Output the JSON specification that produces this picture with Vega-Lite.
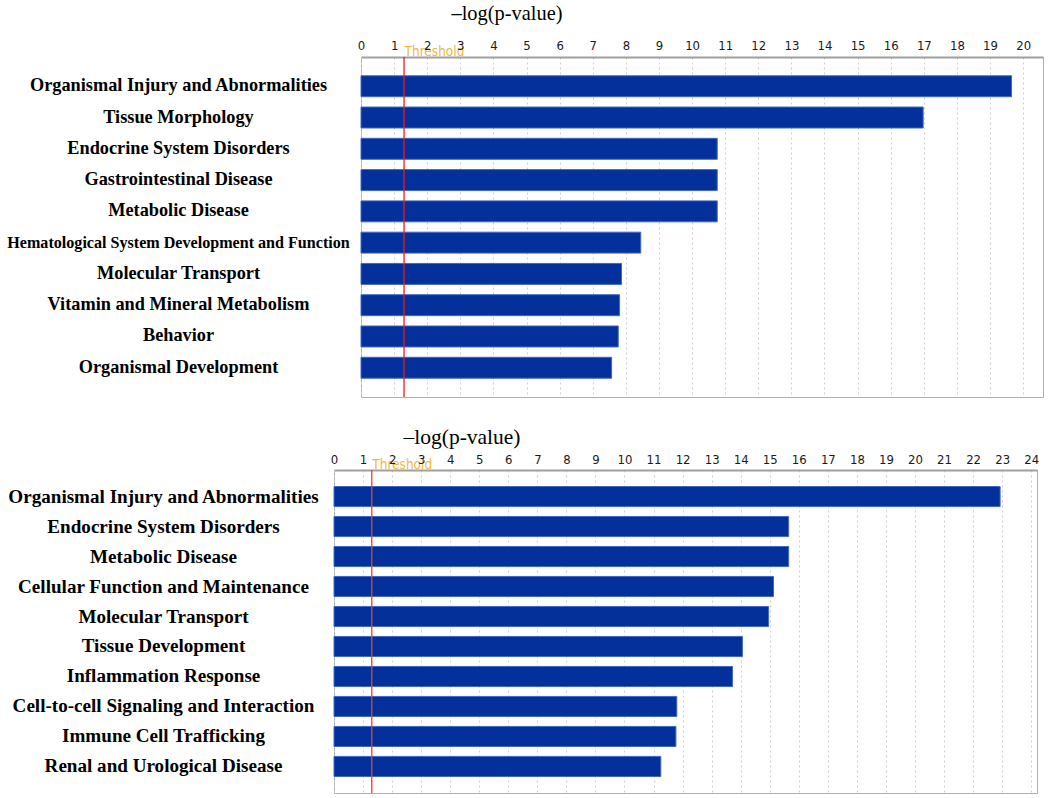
{
  "$schema": "https://vega.github.io/schema/vega-lite/v6.json",
  "background": "white",
  "padding": {"left": 5, "top": 2, "right": 0, "bottom": 0},
  "config": {
    "view": {"stroke": "#b0b0b0", "strokeWidth": 1},
    "axis": {"labelOverlap": false},
    "axisX": {"labelOverlap": false},
    "axisQuantitative": {"labelOverlap": false}
  },
  "datasets": {
    "top": [
      {"category": "Organismal Injury and Abnormalities", "value": 19.65},
      {"category": "Tissue Morphology", "value": 16.98},
      {"category": "Endocrine System Disorders", "value": 10.76},
      {"category": "Gastrointestinal Disease", "value": 10.76},
      {"category": "Metabolic Disease", "value": 10.76},
      {"category": "Hematological System Development and Function", "value": 8.45},
      {"category": "Molecular Transport", "value": 7.87},
      {"category": "Vitamin and Mineral Metabolism", "value": 7.81},
      {"category": "Behavior", "value": 7.77},
      {"category": "Organismal Development", "value": 7.57}
    ],
    "bottom": [
      {"category": "Organismal Injury and Abnormalities", "value": 22.93},
      {"category": "Endocrine System Disorders", "value": 15.65},
      {"category": "Metabolic Disease", "value": 15.65},
      {"category": "Cellular Function and Maintenance", "value": 15.13},
      {"category": "Molecular Transport", "value": 14.96},
      {"category": "Tissue Development", "value": 14.06},
      {"category": "Inflammation Response", "value": 13.72},
      {"category": "Cell-to-cell Signaling and Interaction", "value": 11.8},
      {"category": "Immune Cell Trafficking", "value": 11.77},
      {"category": "Renal and Urological Disease", "value": 11.25}
    ],
    "threshold": [{"value": 1.3}],
    "none": []
  },
  "spacing": 26,
  "resolve": {"scale": {"x": "independent", "y": "independent"}},
  "vconcat": [
    {
      "spacing": 0,
      "resolve": {"scale": {"x": "independent", "y": "independent"}},
      "hconcat": [
        {"width": 1, "height": 1, "view": {"stroke": null}, "data": {"name": "none"}, "mark": "point"},
        {
          "width": 682,
          "height": 340,
          "layer": [
            {
              "data": {"name": "top"},
              "mark": {"type": "bar", "color": "#03309a", "stroke": "#3f68c6", "strokeWidth": 1},
              "encoding": {
                "y": {
                  "field": "category", "type": "nominal", "sort": null,
                  "scale": {"paddingInner": 0.33, "paddingOuter": 0.6},
                  "axis": {
                    "title": null, "ticks": false, "tickSize": 0, "domain": false,
                    "labelAlign": "center", "labelPadding": 183, "labelLimit": 600,
                    "labelFont": "Liberation Serif", "labelFontWeight": "bold", "labelColor": "black",
                    "labelFontSize": {"condition": {"test": "datum.value == 'Hematological System Development and Function'", "value": 16.1}, "value": 18.3}
                  }
                },
                "x": {
                  "field": "value", "type": "quantitative",
                  "scale": {"domain": [0, 20.6], "nice": false, "zero": true},
                  "axis": {
                    "orient": "top",
                    "values": [0, 1, 1.3, 2, 3, 4, 5, 6, 7, 8, 9, 10, 11, 12, 13, 14, 15, 16, 17, 18, 19, 20],
                    "labelExpr": "datum.value == 1.3 ? 'Threshold' : datum.label",
                    "labelOverlap": false, "labelFlush": false, "labelBound": false,
                    "labelFont": "DejaVu Sans Condensed",
                    "labelFontSize": {"condition": {"test": "datum.value == 1.3", "value": 13.5}, "value": 13},
                    "labelColor": {"condition": {"test": "datum.value == 1.3", "value": "#f2b645"}, "value": "#1a1a1a"},
                    "labelAlign": {"condition": {"test": "datum.value == 1.3", "value": "left"}, "value": "center"},
                    "labelPadding": {"condition": {"test": "datum.value == 1.3", "value": -1}, "value": 5},
                    "ticks": false, "domainColor": "#a0a0a0", "domainWidth": 2,
                    "grid": true, "gridDash": [2, 3], "gridColor": "#cfcfcf",
                    "gridOpacity": {"condition": {"test": "datum.value == 1.3", "value": 0}, "value": 1},
                    "title": "–log(p-value)", "titleFont": "Liberation Serif", "titleFontSize": 20.4,
                    "titleFontWeight": "normal", "titleColor": "black",
                    "titleAlign": "left", "titleBaseline": "alphabetic", "titleX": 90, "titleY": -38
                  }
                }
              }
            },
            {
              "data": {"name": "threshold"},
              "mark": {"type": "rule", "color": "#ee1c1c", "strokeWidth": 1.3},
              "encoding": {
                "x": {
                  "field": "value", "type": "quantitative",
                  "axis": {
                    "orient": "top",
                    "values": [0, 1, 1.3, 2, 3, 4, 5, 6, 7, 8, 9, 10, 11, 12, 13, 14, 15, 16, 17, 18, 19, 20],
                    "labelExpr": "datum.value == 1.3 ? 'Threshold' : datum.label",
                    "labelOverlap": false, "labelFlush": false, "labelBound": false,
                    "title": "–log(p-value)"
                  }
                }
              }
            }
          ]
        }
      ]
    },
    {
      "spacing": 0,
      "resolve": {"scale": {"x": "independent", "y": "independent"}},
      "hconcat": [
        {"width": 1, "height": 1, "view": {"stroke": null}, "data": {"name": "none"}, "mark": "point"},
        {
          "width": 703,
          "height": 323,
          "layer": [
            {
              "data": {"name": "bottom"},
              "mark": {"type": "bar", "color": "#03309a", "stroke": "#3f68c6", "strokeWidth": 1},
              "encoding": {
                "y": {
                  "field": "category", "type": "nominal", "sort": null,
                  "scale": {"paddingInner": 0.33, "paddingOuter": 0.55},
                  "axis": {
                    "title": null, "ticks": false, "tickSize": 0, "domain": false,
                    "labelAlign": "center", "labelPadding": 171, "labelLimit": 600,
                    "labelFont": "Liberation Serif", "labelFontWeight": "bold", "labelColor": "black",
                    "labelFontSize": 19.1
                  }
                },
                "x": {
                  "field": "value", "type": "quantitative",
                  "scale": {"domain": [0, 24.2], "nice": false, "zero": true},
                  "axis": {
                    "orient": "top",
                    "values": [0, 1, 1.3, 2, 3, 4, 5, 6, 7, 8, 9, 10, 11, 12, 13, 14, 15, 16, 17, 18, 19, 20, 21, 22, 23, 24],
                    "labelExpr": "datum.value == 1.3 ? 'Threshold' : datum.label",
                    "labelOverlap": false, "labelFlush": false, "labelBound": false,
                    "labelFont": "DejaVu Sans Condensed",
                    "labelFontSize": {"condition": {"test": "datum.value == 1.3", "value": 13.5}, "value": 13},
                    "labelColor": {"condition": {"test": "datum.value == 1.3", "value": "#f2b645"}, "value": "#1a1a1a"},
                    "labelAlign": {"condition": {"test": "datum.value == 1.3", "value": "left"}, "value": "center"},
                    "labelPadding": {"condition": {"test": "datum.value == 1.3", "value": -1}, "value": 4},
                    "ticks": false, "domainColor": "#a0a0a0", "domainWidth": 2,
                    "grid": true, "gridDash": [2, 3], "gridColor": "#cfcfcf",
                    "gridOpacity": {"condition": {"test": "datum.value == 1.3", "value": 0}, "value": 1},
                    "title": "–log(p-value)", "titleFont": "Liberation Serif", "titleFontSize": 21.5,
                    "titleFontWeight": "normal", "titleColor": "black",
                    "titleAlign": "left", "titleBaseline": "alphabetic", "titleX": 69, "titleY": -27
                  }
                }
              }
            },
            {
              "data": {"name": "threshold"},
              "mark": {"type": "rule", "color": "#f0401f", "strokeWidth": 1.3},
              "encoding": {
                "x": {
                  "field": "value", "type": "quantitative",
                  "axis": {
                    "orient": "top",
                    "values": [0, 1, 1.3, 2, 3, 4, 5, 6, 7, 8, 9, 10, 11, 12, 13, 14, 15, 16, 17, 18, 19, 20, 21, 22, 23, 24],
                    "labelExpr": "datum.value == 1.3 ? 'Threshold' : datum.label",
                    "labelOverlap": false, "labelFlush": false, "labelBound": false,
                    "title": "–log(p-value)"
                  }
                }
              }
            }
          ]
        }
      ]
    }
  ]
}
